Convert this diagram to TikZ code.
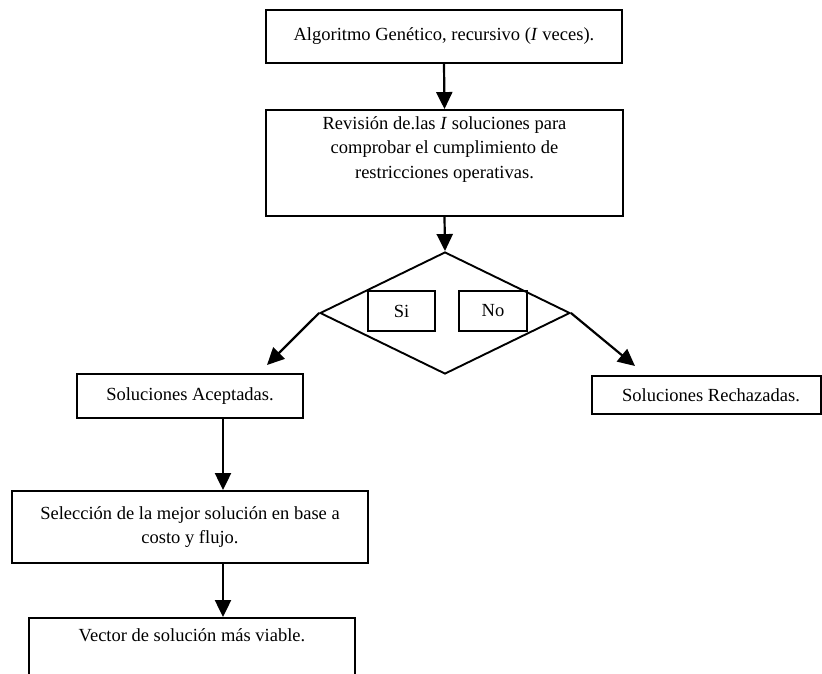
\documentclass[tikz,border=0pt]{standalone}
\usepackage{fontspec}
\setmainfont{Liberation Serif}
\usetikzlibrary{shapes.geometric,arrows.meta,calc}
\begin{document}
\begin{tikzpicture}[x=1pt,y=-1pt,
  line width=1.9pt,
  box/.style={draw, rectangle, inner sep=0pt},
  txt/.style={align=center, font=\fontsize{18.5}{24.5}\selectfont, inner sep=0pt},
  arr/.style={line width=2.2pt, -{Triangle[length=17pt,width=16pt]}},
]
\path[use as bounding box, clip] (0,0) rectangle (822,673);
\fill[white] (0,0) rectangle (822,673);

% process boxes
\node[box, txt, minimum width=356, minimum height=53] (alg) at (444,36.5)
  {Algoritmo Genético, recursivo (\textit{I} veces).};
\node[box, minimum width=357, minimum height=106] (rev) at (444.5,163) {};
\node[txt, anchor=north] (revt) at ([yshift=-6.5pt]rev.north)
  {Revisión de.las \textit{I} soluciones para\\comprobar el cumplimiento de\\restricciones operativas.};

% decision
\node[draw, diamond, minimum width=250, minimum height=122, inner sep=0pt] (dec) at (445,313) {};
\node[box, txt, minimum width=67, minimum height=40] (si) at (401.5,311) {\raisebox{-1pt}{Si}};
\node[box, txt, minimum width=68, minimum height=40] (no) at (493,311) {\raisebox{-1pt}{No}};

% outcomes
\node[box, txt, minimum width=226, minimum height=44] (acc) at (190,396) {Soluciones Aceptadas.};
\node[box, txt, minimum width=229, minimum height=38] (rej) at (706.5,395) {\hspace*{9pt}Soluciones Rechazadas.};
\coordinate (accin) at (267,365);
\coordinate (rejin) at (635,366);

% selection and result
\node[box, txt, minimum width=356, minimum height=72] (sel) at (190,527)
  {Selección de la mejor solución en base a\\costo y flujo.};
\node[box, minimum width=326, minimum height=120] (vec) at (192,678) {};
\node[txt] (vect) at (192,635) {Vector de solución más viable.};

% connectors
\draw[arr] (alg.south) -- (rev.north);
\draw[arr] (rev.south) -- (dec.north);
\draw[arr] (dec.west) -- (accin);
\draw[arr] (dec.east) -- (rejin);
\draw[arr] ([xshift=33pt]acc.south) -- ([xshift=33pt]acc.south |- sel.north);
\draw[arr] ([xshift=33pt]sel.south) -- ([xshift=33pt]sel.south |- vec.north);
\end{tikzpicture}
\end{document}
